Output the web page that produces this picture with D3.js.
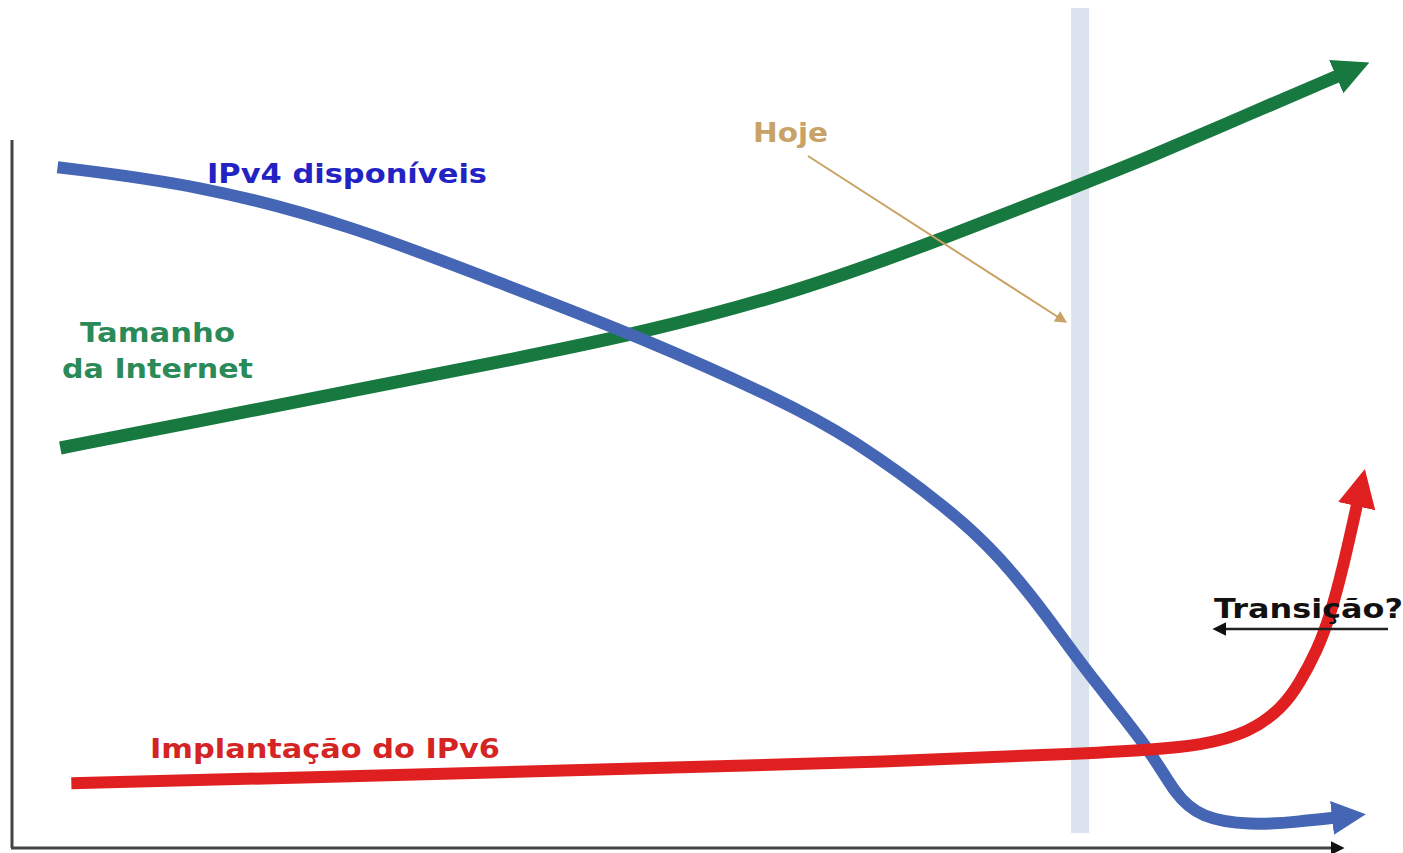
<!DOCTYPE html>
<html>
<head>
<meta charset="utf-8">
<script src="https://cdn.jsdelivr.net/npm/d3@7"></script>
<style>
  body { margin: 0; background: #fff; }
  svg { display: block; }
</style>
</head>
<body>
<svg></svg>
<script>
// conceptual curves, x = time (0-100), y = amount (0-100)
const ipv4Free = [
  [3.3, 85.1], [13.6, 82.9], [24.5, 77.9], [35.4, 70.6], [45.5, 63.9],
  [55.7, 56.0], [60.7, 51.4], [68.0, 42.3], [71.6, 36.4], [75.2, 28.6],
  [77.6, 22.6], [82.5, 12.3], [84.3, 6.6], [86.1, 3.8], [89.7, 2.8],
  [93.3, 3.3], [95.9, 3.8]
]
const internetSize = [
  [3.5, 50.0], [13.6, 53.4], [24.5, 57.1], [35.4, 60.8], [45.5, 64.3],
  [57.1, 69.6], [67.2, 76.0], [77.4, 82.9], [82.5, 86.4], [89.7, 91.8],
  [96.2, 96.6]
]
const ipv6Deploy = [
  [4.3, 8.1], [20.9, 8.8], [42.6, 9.8], [64.3, 10.8], [78.8, 11.9],
  [82.5, 12.3], [86.1, 12.8], [89.7, 14.4], [92.1, 17.6], [93.3, 20.6],
  [94.6, 24.8], [95.5, 28.9], [96.5, 35.4], [97.5, 43.2]
]
const today = 77.4

const labels = [
  { text: 'Hoje', x: 753, y: 142, len: 75, color: '#c9a266' },
  { text: 'IPv4 disponíveis', x: 207, y: 183, len: 280, color: '#2323c4' },
  { text: 'Tamanho', x: 80, y: 342, len: 155, color: '#2a8a58' },
  { text: 'da Internet', x: 62, y: 378, len: 191, color: '#2a8a58' },
  { text: 'Implantação do IPv6', x: 150, y: 758, len: 350, color: '#d42424' },
  { text: 'Transição?', x: 1214, y: 618, len: 189, color: '#111' }
]

const width = 1403
const height = 853

const x = d3.scaleLinear().domain([0, 100]).range([12, 1392])
const y = d3.scaleLinear().domain([0, 100]).range([848, 48])

const svg = d3.select('svg')
    .attr('width', width)
    .attr('height', height)
    .style('font-family', '"DejaVu Sans", Verdana, sans-serif')
    .style('font-weight', 'bold')

const defs = svg.append('defs')
function arrow(id, color, w, h) {
    defs.append('marker')
        .attr('id', id)
        .attr('viewBox', '0 0 10 10')
        .attr('refX', 1)
        .attr('refY', 5)
        .attr('markerUnits', 'userSpaceOnUse')
        .attr('markerWidth', w)
        .attr('markerHeight', h)
        .attr('orient', 'auto')
        .append('path')
        .attr('d', 'M0,0 L10,5 L0,10 z')
        .attr('fill', color)
}
arrow('a-blue', '#4565b5', 34, 40)
arrow('a-green', '#17793f', 36, 44)
arrow('a-red', '#e02020', 38, 42)
arrow('a-hoje', '#c9a266', 14, 12)
arrow('a-black', '#111', 14, 14)

// today band
svg.append('rect')
    .attr('x', x(today) - 9)
    .attr('y', 8)
    .attr('width', 18)
    .attr('height', 825)
    .attr('fill', '#dbe3ee')

// axes
svg.append('line')
    .attr('x1', x(0)).attr('x2', x(0))
    .attr('y1', 140).attr('y2', y(0))
    .attr('stroke', '#444').attr('stroke-width', 3)
svg.append('line')
    .attr('x1', x(0) - 1).attr('x2', 1332)
    .attr('y1', y(0)).attr('y2', y(0))
    .attr('stroke', '#444').attr('stroke-width', 3)
    .attr('marker-end', 'url(#a-black)')

const line = d3.line()
    .x(d => x(d[0]))
    .y(d => y(d[1]))
    .curve(d3.curveBasis)

svg.append('path')
    .datum(internetSize)
    .attr('d', line)
    .attr('fill', 'none')
    .attr('stroke', '#17793f')
    .attr('stroke-width', 13)
    .attr('marker-end', 'url(#a-green)')

svg.append('path')
    .datum(ipv4Free)
    .attr('d', line)
    .attr('fill', 'none')
    .attr('stroke', '#4565b5')
    .attr('stroke-width', 12)
    .attr('marker-end', 'url(#a-blue)')

svg.append('path')
    .datum(ipv6Deploy)
    .attr('d', line)
    .attr('fill', 'none')
    .attr('stroke', '#e02020')
    .attr('stroke-width', 12)
    .attr('marker-end', 'url(#a-red)')

// Hoje pointer
svg.append('line')
    .attr('x1', 808).attr('y1', 156)
    .attr('x2', 1058).attr('y2', 317)
    .attr('stroke', '#c9a266').attr('stroke-width', 2)
    .attr('marker-end', 'url(#a-hoje)')

// labels
svg.selectAll('text.label')
    .data(labels)
    .join('text')
    .attr('class', 'label')
    .attr('x', d => d.x)
    .attr('y', d => d.y)
    .attr('fill', d => d.color)
    .attr('textLength', d => d.len)
    .attr('lengthAdjust', 'spacingAndGlyphs')
    .style('font-size', '26px')
    .text(d => d.text)

svg.append('line')
    .attr('x1', 1388).attr('y1', 629)
    .attr('x2', 1225).attr('y2', 629)
    .attr('stroke', '#222').attr('stroke-width', 2.5)
    .attr('marker-end', 'url(#a-black)')
</script>
</body>
</html>
